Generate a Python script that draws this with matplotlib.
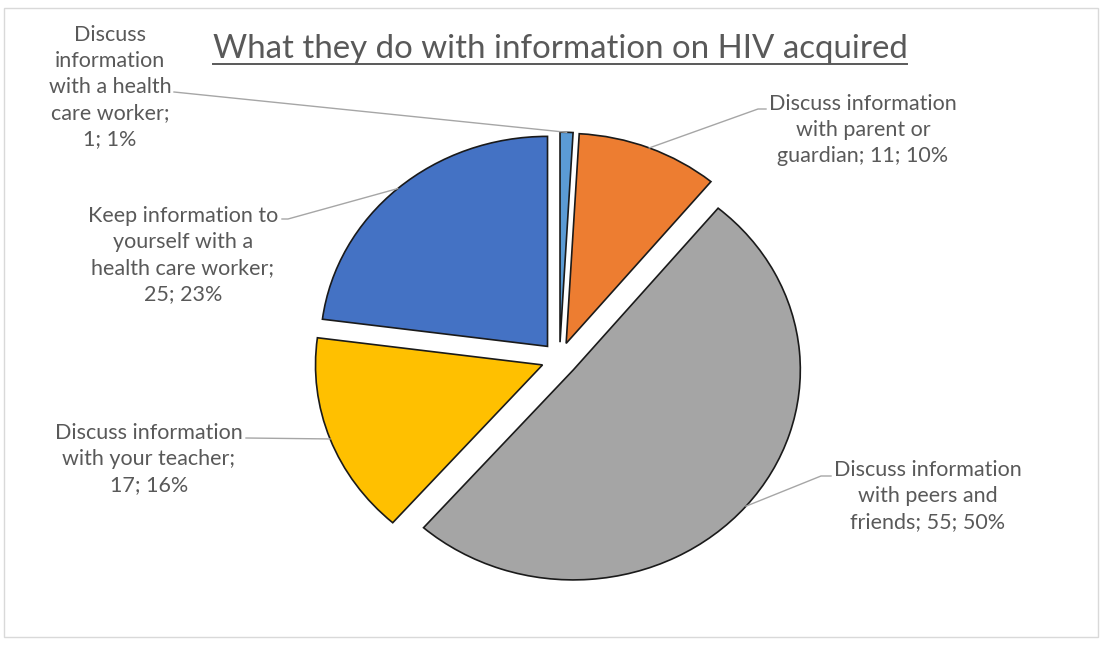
import matplotlib
matplotlib.use("Agg")
import matplotlib.pyplot as plt
from matplotlib.patches import Rectangle
from matplotlib.lines import Line2D
import numpy as np

# ---- data -------------------------------------------------------------
categories = [
    "Discuss\ninformation\nwith a health\ncare worker",
    "Discuss information\nwith parent or\nguardian",
    "Discuss information\nwith peers and\nfriends",
    "Discuss information\nwith your teacher",
    "Keep information to\nyourself with a\nhealth care worker",
]
counts = [1, 11, 55, 17, 25]
# how the value part follows each category name in its label
value_sep = [";\n", "; ", "; ", ";\n", ";\n"]
colors = ["#5B9BD5", "#ED7D31", "#A5A5A5", "#FFC000", "#4472C4"]
title = "What they do with information on HIV acquired"

# ---- layout (pixels of a 1102 x 645 canvas) ----------------------------
W, H = 1102, 645
CX, CY = 559.5, 359.0     # pie centre
RX, RY = 227.0, 210.0     # drawn radii (chart area is slightly stretched)

# label anchor (centre of text block), leader attachment point and the
# length of the short horizontal stub next to the label
label_pos = [(110, 87), (863, 130), (928, 496), (149, 459), (183, 255)]
leader_end = [(174, 92), (766, 109), (831, 476), (246, 438), (282, 219)]
leader_stub = [0, -8, -10, 0, 6]

TEXT_COL = "#595959"
LINE_COL = "#A6A6A6"
FONT = "Lato"


def to_data(x, y):
    return (x - CX) / RX, (CY - y) / RY


fig = plt.figure(figsize=(W / 100, H / 100), dpi=100)
fig.patch.set_facecolor("white")
ax = fig.add_axes([0, 0, 1, 1])

wedges, _ = ax.pie(
    counts,
    startangle=90,
    counterclock=False,
    explode=[0.08] * len(counts),
    colors=colors,
    wedgeprops=dict(edgecolor="#1a1a1a", linewidth=1.2),
)
ax.set_aspect("auto")
ax.set_xlim(-CX / RX, (W - CX) / RX)
ax.set_ylim((CY - H) / RY, CY / RY)
ax.axis("off")

# outer chart frame
fig.patches.append(Rectangle((4 / W, 1 - 637 / H), 1094 / W, 629 / H,
                             transform=fig.transFigure, fill=False,
                             edgecolor="#D9D9D9", linewidth=1.0))

total = sum(counts)
for i, (w, name, v) in enumerate(zip(wedges, categories, counts)):
    pct = round(100 * v / total)
    text = f"{name}{value_sep[i]}{v}; {pct}%"
    lx, ly = to_data(*label_pos[i])
    ax.text(lx, ly, text, ha="center", va="center", color=TEXT_COL,
            fontsize=15.5, family=FONT, linespacing=1.38)
    # leader line from the outer arc of the slice to the label
    mid = np.deg2rad((w.theta1 + w.theta2) / 2)
    ax_, ay_ = w.center[0] + w.r * np.cos(mid), w.center[1] + w.r * np.sin(mid)
    ex_px, ey_px = leader_end[i]
    kx, ky = to_data(ex_px + leader_stub[i], ey_px)
    ex, ey = to_data(ex_px, ey_px)
    ax.add_line(Line2D([ax_, kx, ex], [ay_, ky, ey],
                       color=LINE_COL, linewidth=1.0))

# underlined title
t = fig.text(560 / W, 1 - 58 / H, title, ha="center", va="baseline",
             color=TEXT_COL, fontsize=23.8, family=FONT)
fig.canvas.draw()
bb = t.get_window_extent(renderer=fig.canvas.get_renderer())
uy = 1 - 64 / H
fig.lines.append(Line2D([bb.x0 / W, bb.x1 / W], [uy, uy],
                        transform=fig.transFigure, color=TEXT_COL,
                        linewidth=1.4))

fig.savefig("out.png", dpi=100, facecolor="white")
